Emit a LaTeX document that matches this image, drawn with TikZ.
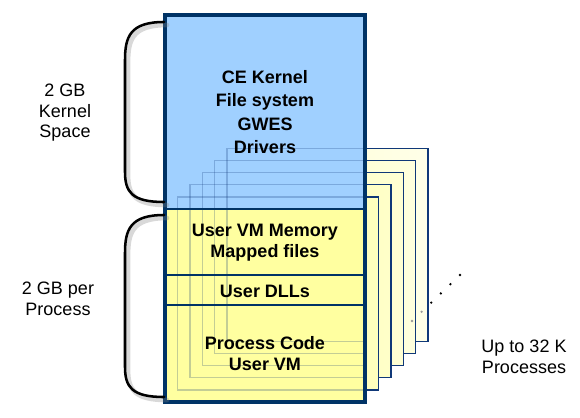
\documentclass[tikz,border=0pt]{standalone}
\usepackage{fontspec}
\setmainfont{Liberation Sans}
\definecolor{kernelblue}{RGB}{160,208,255}
\definecolor{uservm}{RGB}{255,255,160}
\definecolor{pageyellow}{RGB}{255,255,150}
\definecolor{boxnavy}{RGB}{0,51,102}
\definecolor{pagenavy}{RGB}{16,56,120}
\tikzset{
  boldtext/.style={align=center,font=\fontsize{13.5}{15.75}\selectfont\bfseries},
  sidetext/.style={align=center,font=\fontsize{13.5}{15.4}\selectfont},
  bracket/.style={line width=1.9pt,line cap=round},
  bracketshadow/.style={line width=3.5pt,gray,opacity=0.3,line cap=round},
  pageline/.style={pagenavy,line width=1pt}
}
\begin{document}
\begin{tikzpicture}[x=0.75pt,y=-0.75pt]
  \useasboundingbox (0,0) rectangle (580,417);
  \foreach \i in {5,4,...,1} {
    \shade[left color=pageyellow!\the\numexpr 95-10*\i\relax!white,
           right color=pageyellow!\the\numexpr 72-10*\i\relax!white]
      (165.5+12.3*\i,209.2-12.2*\i) rectangle ++(201,193);
    \draw[pageline] (165.5+12.3*\i,209.2-12.2*\i) rectangle ++(201,193);
  }
  \foreach \i in {0,...,3}
    \fill (460-9.6*\i,275+9.2*\i) circle (1.3);
  \foreach \i in {4,5}
    \fill[gray!80] (460-9.6*\i,275+9.2*\i) circle (1.3);
  \fill[kernelblue] (165,15) rectangle (365,209);
  \fill[uservm] (165,209) rectangle (365,402);
  \begin{scope}
    \clip (165,15) rectangle (365,402);
    \foreach \i in {1,...,5}
      \draw[pageline,draw opacity=0.25] (165.5+12.3*\i,209.2-12.2*\i) rectangle ++(201,193);
  \end{scope}
  \draw[boxnavy,line width=0.9pt] (165,209) -- (365,209);
  \draw[boxnavy,line width=0.9pt] (165,275) -- (365,275);
  \draw[boxnavy,line width=0.9pt] (165,305) -- (365,305);
  \draw[boxnavy,line width=2.4pt] (165,15) rectangle (365,402);

  \draw[bracketshadow] (167,25) .. controls (132,25) and (128,40) .. (128,63)
    -- (128,175) .. controls (128,195) and (135,205) .. (167,205);
  \draw[bracketshadow] (167,218) .. controls (132,218) and (128,233) .. (128,256)
    -- (128,370) .. controls (128,390) and (135,400) .. (167,400);
  \draw[bracket] (164,22) .. controls (130,22) and (125,37) .. (125,60)
    -- (125,172) .. controls (125,192) and (132,202) .. (164,202);
  \draw[bracket] (164,215) .. controls (130,215) and (125,230) .. (125,253)
    -- (125,367) .. controls (125,387) and (132,397) .. (164,397);

  \node[boldtext,font=\fontsize{13.5}{17.5}\selectfont\bfseries] (kerneltext) at (265,112)
    {CE Kernel\\File system\\GWES\\Drivers};
  \node[boldtext] (vmtext) at (265,242.5) {User VM Memory\\Mapped files};
  \node[boldtext] (dlltext) at (265,291) {User DLLs};
  \node[boldtext] (codetext) at (265,353.5) {Process Code\\User VM};
  \node[sidetext] (kernelspace) at (65,113) {2 GB\\Kernel\\Space};
  \node[sidetext] (procspace) at (58,299) {2 GB per\\Process};
  \node[sidetext] (uptext) at (524,357) {Up to 32 K\\Processes};
\end{tikzpicture}
\end{document}
